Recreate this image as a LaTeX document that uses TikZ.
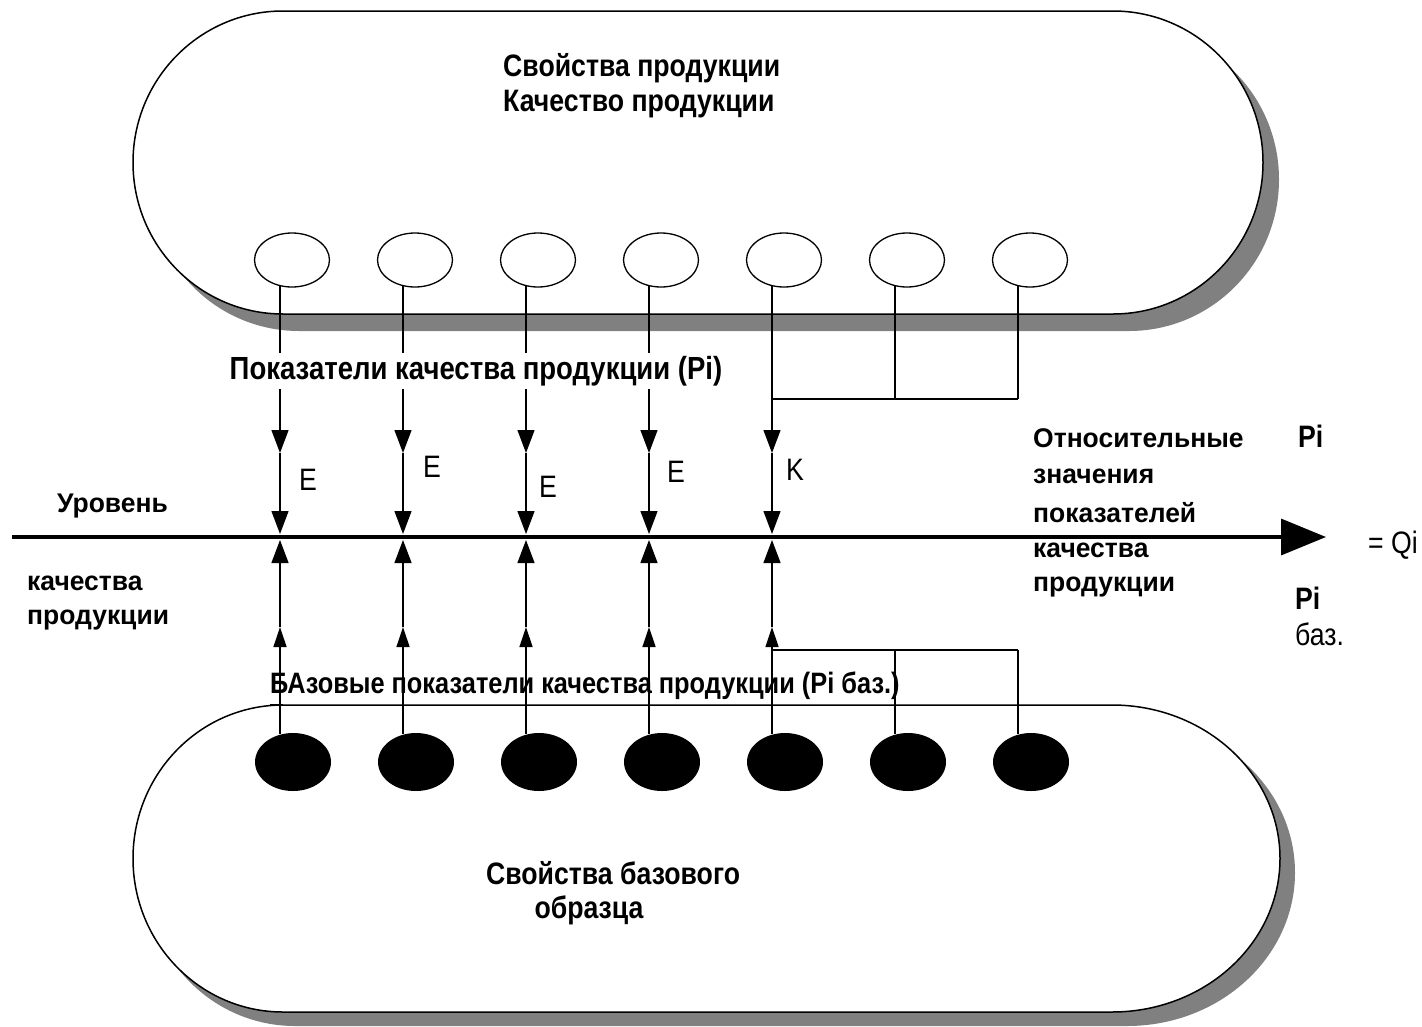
\documentclass[tikz,border=0pt]{standalone}
\usepackage{fontspec}
\setmainfont{Liberation Sans}
\newfontfamily\fN[FakeStretch=0.86]{Liberation Sans}
\newfontfamily\fW[FakeStretch=0.98]{Liberation Sans}
\usetikzlibrary{arrows.meta,calc,shapes.geometric}
\definecolor{shad}{RGB}{128,128,128}
\begin{document}
\begin{tikzpicture}[x=1pt,y=-1pt,
  conn/.style={line width=1.3pt},
  bigtip/.style={-{Triangle[length=23pt,width=17pt]}},
  smalltip/.style={-{Triangle[length=20pt,width=13pt]}},
  hollow/.style={ellipse,draw,line width=1.3pt,minimum width=75pt,minimum height=54pt,inner sep=0pt},
  solid/.style={ellipse,fill=black,minimum width=76pt,minimum height=58pt,inner sep=0pt},
  txt/.style={font=\fN\bfseries\fontsize{31}{33}\selectfont,inner sep=0pt},
  wtxt/.style={font=\fW\bfseries\fontsize{27}{29}\selectfont,inner sep=0pt,anchor=west},
  ltr/.style={font=\fN\fontsize{31}{33}\selectfont,inner sep=0pt}]
\useasboundingbox (0,0) rectangle (1422,1026);
% top stadium
\fill[shad] (299,28) -- (1129,28) arc[start angle=-90,end angle=90,x radius=150,y radius=151.5]
  -- (299,331) arc[start angle=90,end angle=270,x radius=150,y radius=151.5] -- cycle;
\draw[line width=1.5pt,fill=white] (283,11) -- (1113,11) arc[start angle=-90,end angle=90,x radius=150,y radius=151.5]
  -- (283,314) arc[start angle=90,end angle=270,x radius=150,y radius=151.5] -- cycle;
% bottom stadium
\fill[shad] (295,719) -- (1127,719) arc[start angle=-90,end angle=90,x radius=168,y radius=153.5]
  -- (295,1026) arc[start angle=90,end angle=270,x radius=150,y radius=153.5] -- cycle;
\draw[line width=1.5pt,fill=white] (283,705) -- (1112,705) arc[start angle=-90,end angle=90,x radius=168,y radius=153.5]
  -- (283,1012) arc[start angle=90,end angle=270,x radius=150,y radius=153.5] -- cycle;
\draw[line width=1.5pt] (270,705) -- (283,705);
% texts inside stadiums
\node[txt,anchor=west] (t1) at (503,68) {Свойства продукции};
\node[txt,anchor=west] (t2) at (503,104) {Качество продукции};
\node[txt] (t3) at (613,873) {Свойства базового};
\node[txt] (t4) at (589,910) {образца};
% ellipses
\foreach \i in {1,...,7}{
  \node[hollow] (e\i) at ({292+123*(\i-1)},260) {};
  \node[solid] (b\i) at ({293+123*(\i-1)},762) {};
  \coordinate (m\i) at ({280+123*(\i-1)},453);
  \coordinate (a\i) at ({280+123*(\i-1)},534);
  \coordinate (n\i) at ({280+123*(\i-1)},627);
  \coordinate (u\i) at ({280+123*(\i-1)},540);
  \coordinate (h\i) at ({280+123*(\i-1)},399);
  \coordinate (g\i) at ({280+123*(\i-1)},650);
}
% main axis
\coordinate (ax0) at (12,537);
\coordinate (ax1) at (1326,537);
\draw[line width=3.5pt,-{Triangle[length=45pt,width=36pt]}] (ax0) -- (ax1);
% verticals
\foreach \i in {1,...,5}{
  \draw[conn,bigtip] ($(e\i.south)+(-12,-1.5)$) -- (m\i);
  \draw[conn,bigtip] (m\i) -- (a\i);
  \draw[conn,smalltip] ($(b\i.north)+(-13,1.5)$) -- (n\i);
  \draw[conn,bigtip] (n\i) -- (u\i);
}
\foreach \i in {6,7}{
  \draw[conn] ($(e\i.south)+(-12,-1.5)$) -- (h\i);
  \draw[conn] ($(b\i.north)+(-13,1.5)$) -- (g\i);
}
\draw[conn] (h5) -- (h7);
\draw[conn] (g5) -- (g7);
% labels
\node[txt,fill=white,inner sep=3pt,font=\fN\bfseries\fontsize{32}{34}\selectfont] (pl) at (476,371) {Показатели качества продукции (Pi)};
\node[txt,anchor=west,font=\fN\bfseries\fontsize{29.5}{31}\selectfont] (bl) at (270,686) {БАзовые показатели качества продукции (Pi баз.)};
\node[ltr] (l1) at (308,480) {E};
\node[ltr] (l2) at (432,467) {E};
\node[ltr] (l3) at (548,487) {E};
\node[ltr] (l4) at (676,472) {E};
\node[ltr] (l5) at (795,470) {K};
\node[wtxt] (u1) at (57,506) {Уровень};
\node[wtxt] (q1) at (27,583) {качества};
\node[wtxt] (q2) at (27,620) {продукции};
\node[wtxt] (r1) at (1033,438) {Относительные};
\node[wtxt] (r2) at (1033,476) {значения};
\node[wtxt] (r3) at (1033,513) {показателей};
\node[wtxt] (r4) at (1033,550) {качества};
\node[wtxt] (r5) at (1033,587) {продукции};
\node[txt,anchor=west] (p1) at (1298,436) {Pi};
\node[ltr,anchor=west] (qi) at (1368,545) {= Qi};
\node[txt,anchor=west] (p2) at (1295,598) {Pi};
\node[ltr,anchor=west] (bz) at (1295,634) {баз.};
\end{tikzpicture}
\end{document}
